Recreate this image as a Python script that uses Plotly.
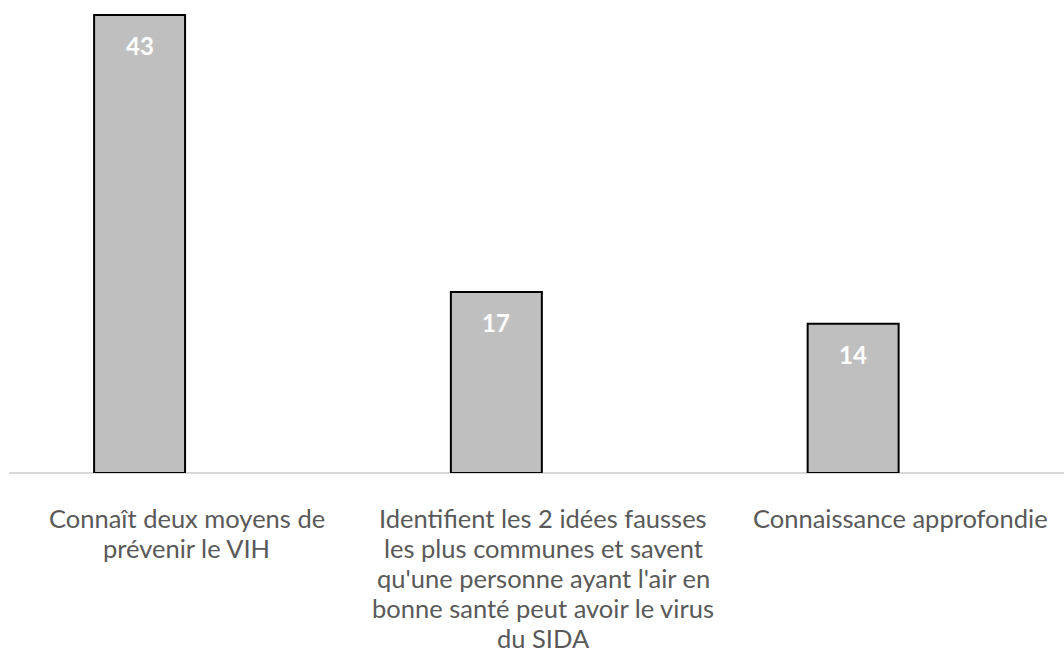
import plotly.graph_objects as go

categories = [
    "Connaît deux moyens de<br>prévenir le VIH",
    "Identifient les 2 idées fausses<br>les plus communes et savent<br>qu'une personne ayant l'air en<br>bonne santé peut avoir le virus<br>du SIDA",
    "Connaissance approfondie",
]
values = [43, 17, 14]

x_pos = list(range(len(categories)))

fig = go.Figure()
fig.add_trace(go.Bar(
    x=x_pos,
    y=values,
    width=0.255,
    marker=dict(color="#bfbfbf", line=dict(color="#000000", width=2)),
    hoverinfo="skip",
))

# value labels just inside the top of each bar
for xi, v in zip(x_pos, values):
    fig.add_annotation(
        x=xi, y=v, xref="x", yref="y",
        text=f"<b>{v}</b>", showarrow=False,
        yanchor="middle", yshift=-31,
        font=dict(family="Lato, sans-serif", size=24, color="#ffffff"),
    )

# category labels below the axis, one annotation per line
line_gap = 30
for xi, cat in zip(x_pos, categories):
    for k, line in enumerate(cat.split("<br>")):
        fig.add_annotation(
            x=xi, y=0, xref="x", yref="y",
            text=line, showarrow=False,
            xanchor="center", yanchor="middle",
            xshift=47, yshift=-45 - k * line_gap,
            font=dict(family="Lato, sans-serif", size=25.5, color="#595959"),
        )

fig.update_layout(
    width=1064, height=655,
    margin=dict(l=9, r=0, t=0, b=182),
    paper_bgcolor="#ffffff", plot_bgcolor="#ffffff",
    showlegend=False,
    xaxis=dict(range=[-0.366, 2.591], showticklabels=False, showgrid=False,
               zeroline=False, showline=False, fixedrange=True),
    yaxis=dict(range=[0, 44.4], showticklabels=False, showgrid=False,
               zeroline=True, zerolinecolor="#d9d9d9", zerolinewidth=2,
               showline=False, fixedrange=True),
)

fig.write_html("out.html")
